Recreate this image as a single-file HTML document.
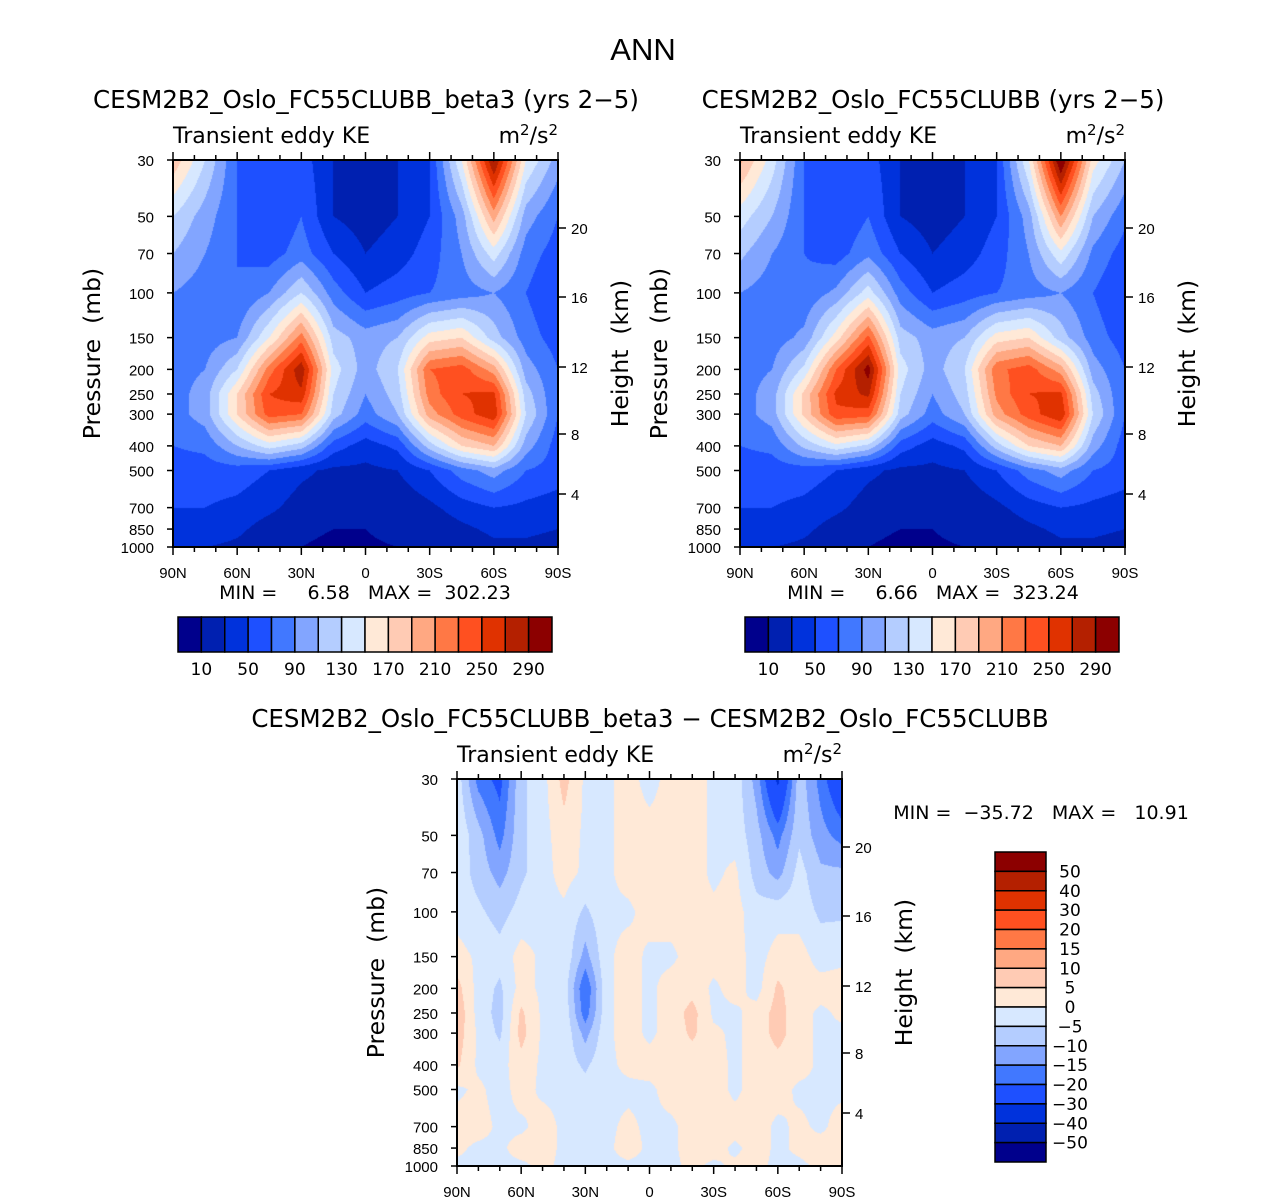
<!DOCTYPE html>
<html><head><meta charset="utf-8">
<style>
body{margin:0;background:#fff;width:1285px;height:1204px;overflow:hidden;position:relative;font-family:"DejaVu Sans",sans-serif;color:#000}
canvas{position:absolute}
svg{position:absolute;left:0;top:0}
</style></head><body>
<svg id="ov" width="1285" height="1204"></svg>
<script>
// ---- data ----
const lats=[90,75,60,45,30,15,0,-15,-30,-45,-60,-75,-90];
const diffLats=[90,80,70,60,50,40,30,20,10,0,-10,-20,-30,-40,-50,-60,-70,-80,-90];
const levels=[30,50,70,100,150,200,250,300,400,500,700,850,1000];
const keLevels=[10,30,50,70,90,110,130,150,170,190,210,230,250,270,290];
const diffLevels=[-50,-40,-30,-20,-15,-10,-5,0,5,10,15,20,30,40,50];
const keTickLabels=["10","50","90","130","170","210","250","290"];
const diffTickLabels=["50","40","30","20","15","10","5","0","−5","−10","−15","−20","−30","−40","−50"];
const presLabels=[30,50,70,100,150,200,250,300,400,500,700,850,1000];
const latLabels=["90N","60N","30N","0","30S","60S","90S"];
const heightLabels=["20","16","12","8","4"];
const ke1=[
[185,130,70,70,60,30,20,30,50,150,295,150,100],
[130,100,70,50,70,30,20,30,50,100,200,100,70],
[110,90,70,60,80,50,30,40,60,90,140,80,60],
[90,80,70,90,130,80,50,60,70,80,90,70,50],
[80,80,90,150,220,120,100,110,160,170,120,80,60],
[80,90,130,220,285,140,100,130,230,240,200,100,70],
[80,100,170,250,265,130,90,120,220,250,255,120,70],
[80,100,170,240,230,120,80,110,200,240,265,130,70],
[70,75,110,140,120,60,40,55,120,170,190,100,60],
[60,60,60,50,35,25,25,30,50,80,100,70,60],
[50,50,45,35,20,15,15,15,25,40,50,45,40],
[45,45,35,20,12,10,10,12,15,25,35,35,30],
[30,30,25,15,10,8,9,10,12,15,25,25,20]];
const ke2=[
[195,140,70,70,60,30,20,30,50,150,315,160,110],
[140,110,70,50,70,30,20,30,50,100,210,110,75],
[115,90,70,60,85,50,30,40,60,90,145,85,60],
[90,80,75,95,140,80,50,60,70,80,90,70,50],
[80,80,95,160,235,120,100,110,160,170,120,80,60],
[80,90,135,230,300,140,100,130,225,240,200,100,70],
[80,100,175,255,275,130,90,120,215,250,255,120,70],
[80,100,175,245,240,120,80,110,200,240,268,130,70],
[70,75,115,145,125,60,40,55,120,170,190,100,60],
[60,60,60,50,35,25,25,30,50,80,100,70,60],
[50,50,45,35,20,15,15,15,25,40,50,45,40],
[45,45,35,20,12,10,10,12,15,25,35,35,30],
[30,30,25,15,10,8,9,10,12,15,25,25,20]];
const diff=[
[-2,-17,-22,-6,-2,7,-1,-1,2,-2,2,2,-1,-2,-12,-32,-7,-17,-28],
[-1,-8,-17,-6,-2,3,-1,-1,2,2,2,2,-1,-2,-8,-17,-6,-13,-17],
[-2,-7,-12,-6,-2,2,-1,-1,2,2,2,2,-1,1,-7,-12,-3,-9,-9],
[-2,-4,-7,-3,-2,-1,-6,-1,-1,2,2,2,1,2,-3,-2,-2,-6,-6],
[2,-1,-3,2,-1,-1,-12,-1,2,-1,-1,2,2,2,-2,2,2,-2,-1],
[7,-2,-6,2,-1,-2,-20,-1,2,-1,2,3,-1,2,-2,6,2,2,2],
[9,-2,-7,6,-1,-1,-18,-1,2,-1,2,7,-1,-1,2,7,2,-1,1],
[8,-1,-6,7,-1,-1,-12,-1,2,-1,2,6,1,-1,2,7,2,-1,-1],
[6,-1,-2,3,-1,-2,-6,-1,1,2,2,2,2,-1,2,3,2,-1,-2],
[-1,1,-2,2,-1,-1,-3,-1,-1,-1,2,2,2,-1,2,2,-1,-1,-1],
[2,2,-1,-1,2,-1,-2,-1,1,-1,-1,2,2,2,2,-1,1,-1,2],
[1,-1,-1,2,2,-1,-1,-1,2,-1,-1,2,2,-1,2,-1,1,2,2],
[-1,-1,-1,-1,1,-1,-1,-1,-1,-1,-1,1,-1,1,1,-1,-1,1,1]];
const colors=["#00008C","#0020B0","#0032DC","#1E50FF","#4178FF","#82A5FF","#B4CDFF","#D7E8FF","#FFE9D7","#FFCBB4","#FFA882","#FF7845","#FF5020","#E03200","#B42000","#8C0000"];
// ---- helpers ----
const W=385,H=387,L0=Math.log(30),L1=Math.log(1000);
const ov=document.getElementById('ov');
const NS='http://www.w3.org/2000/svg';
function yOfP(p){return (Math.log(p)-L0)/(L1-L0)*H;}
function xOfLat(l){return (90-l)/180*W;}
function interp(grid,la,lat,p){
  const n=la.length,step=180/(n-1);
  let i=Math.min(n-2,Math.max(0,Math.floor((90-lat)/step)));
  let fx=((90-lat)-i*step)/step;
  let lp=Math.log(p),j=0;
  while(j<levels.length-2&&Math.log(levels[j+1])<lp)j++;
  let fy=(lp-Math.log(levels[j]))/(Math.log(levels[j+1])-Math.log(levels[j]));
  fy=Math.min(1,Math.max(0,fy));
  const a=grid[j][i],b=grid[j][i+1],c=grid[j+1][i],d=grid[j+1][i+1];
  return (a*(1-fx)+b*fx)*(1-fy)+(c*(1-fx)+d*fx)*fy;
}
function bin(v,lv){let k=0;while(k<lv.length&&v>=lv[k])k++;return k;}
function line(x1,y1,x2,y2,w,name){const l=document.createElementNS(NS,'line');l.setAttribute('x1',x1);l.setAttribute('y1',y1);l.setAttribute('x2',x2);l.setAttribute('y2',y2);l.setAttribute('stroke','#000');l.setAttribute('stroke-width',w||1.5);


ov.appendChild(l);}
function text(x,y,s,size,anchor,name,rot,fam){const t=document.createElementNS(NS,'text');t.setAttribute('x',x);t.setAttribute('y',y);t.setAttribute('font-size',size);t.setAttribute('text-anchor',anchor||'middle');t.setAttribute('font-family',fam||'DejaVu Sans, sans-serif');t.setAttribute('style','white-space:pre');t.setAttribute('xml:space','preserve');t.textContent=s;if(rot)t.setAttribute('transform','rotate(-90 '+x+' '+y+')');


ov.appendChild(t);return t;}
const LIB='Liberation Sans, sans-serif';
text(643,60,'ANN',31,'middle','main-title',false,LIB);
function panel(X,Y,grid,la,lv,name,title,tx){
  const cv=document.createElement('canvas');cv.width=W;cv.height=H;cv.style.left=X+'px';cv.style.top=Y+'px';
  
  
  document.body.insertBefore(cv,ov);
  const ctx=cv.getContext('2d');
  for(let py=0;py<H;py++){const p=Math.exp(L0+(py+0.5)/H*(L1-L0));
    for(let px=0;px<W;px++){const lat=90-(px+0.5)/W*180;ctx.fillStyle=colors[bin(interp(grid,la,lat,p),lv)];ctx.fillRect(px,py,1,1);}}
  const r=document.createElementNS(NS,'rect');r.setAttribute('x',X);r.setAttribute('y',Y);r.setAttribute('width',W);r.setAttribute('height',H);r.setAttribute('fill','none');r.setAttribute('stroke','#000');r.setAttribute('stroke-width',2);
  
  
  ov.appendChild(r);
  text(tx,Y-52,title,24.5,'middle',name+'-title');
  text(X,Y-17,'Transient eddy KE',22,'start',name+'-variable-label');
  const u=text(X+W,Y-17,'',22,'end',name+'-units');u.innerHTML='m<tspan dy="-8" font-size="15">2</tspan><tspan dy="8">/s</tspan><tspan dy="-8" font-size="15">2</tspan>';
  presLabels.forEach(p=>{const y=Y+yOfP(p);line(X-6,y,X,y,1.5,'pressure-tick');text(X-19,y+6,String(p),15,'end','pressure-tick-label',false,LIB);});
  for(let l=90;l>=-90;l-=10){const x=X+xOfLat(l);const mj=l%30===0;line(x,Y+H,x,Y+H+(mj?8:5));line(x,Y,x,Y-(mj?8:5));}
  latLabels.forEach((s,k)=>text(X+k*W/6,Y+H+31,s,15,'middle','latitude-tick-label',false,LIB));
  const hy=[68,137,207,274,334];
  heightLabels.forEach((s,k)=>{line(X+W,Y+hy[k],X+W+8,Y+hy[k],1.5,'height-tick');text(X+W+13,Y+hy[k]+6,s,15,'start','height-tick-label',false,LIB);});
  text(X-73,Y+H/2,'Pressure  (mb)',23.5,'middle','y-axis-title',true);
  text(X+W+70,Y+H/2,'Height  (km)',23.5,'middle','y-axis-title-right',true);
}
panel(173,160,ke1,lats,keLevels,'beta3-panel','CESM2B2_Oslo_FC55CLUBB_beta3 (yrs 2−5)',366);
panel(740,160,ke2,lats,keLevels,'control-panel','CESM2B2_Oslo_FC55CLUBB (yrs 2−5)',933);
panel(457,779,diff,diffLats,diffLevels,'difference-panel','CESM2B2_Oslo_FC55CLUBB_beta3 − CESM2B2_Oslo_FC55CLUBB',650);
text(365,599,'MIN =     6.58   MAX =  302.23',19,'middle','beta3-minmax');
text(933,599,'MIN =     6.66   MAX =  323.24',19,'middle','control-minmax');
text(1041,819,'MIN =  −35.72   MAX =   10.91',19,'middle','difference-minmax');
function hbar(X,Y,name){const bw=374/16;
  colors.forEach((c,k)=>{const r=document.createElementNS(NS,'rect');r.setAttribute('x',X+k*bw);r.setAttribute('y',Y);r.setAttribute('width',bw);r.setAttribute('height',35);r.setAttribute('fill',c);r.setAttribute('stroke','#000');r.setAttribute('stroke-width',1.5);
  
  
  ov.appendChild(r);});
  keTickLabels.forEach((s,k)=>text(X+(1+2*k)*bw,Y+58,s,17,'middle',name+'-label'));}
hbar(178,617,'beta3-colorbar');hbar(745,617,'control-colorbar');
(function(){const X=995,Y=852,bh=310/16;
  colors.slice().reverse().forEach((c,k)=>{const r=document.createElementNS(NS,'rect');r.setAttribute('x',X);r.setAttribute('y',Y+k*bh);r.setAttribute('width',51);r.setAttribute('height',bh);r.setAttribute('fill',c);r.setAttribute('stroke','#000');r.setAttribute('stroke-width',1.5);
  
  
  ov.appendChild(r);});
  diffTickLabels.forEach((s,k)=>text(1070,Y+(k+1)*bh+6,s,17,'middle','difference-colorbar-label'));})();
</script>
</body></html>
